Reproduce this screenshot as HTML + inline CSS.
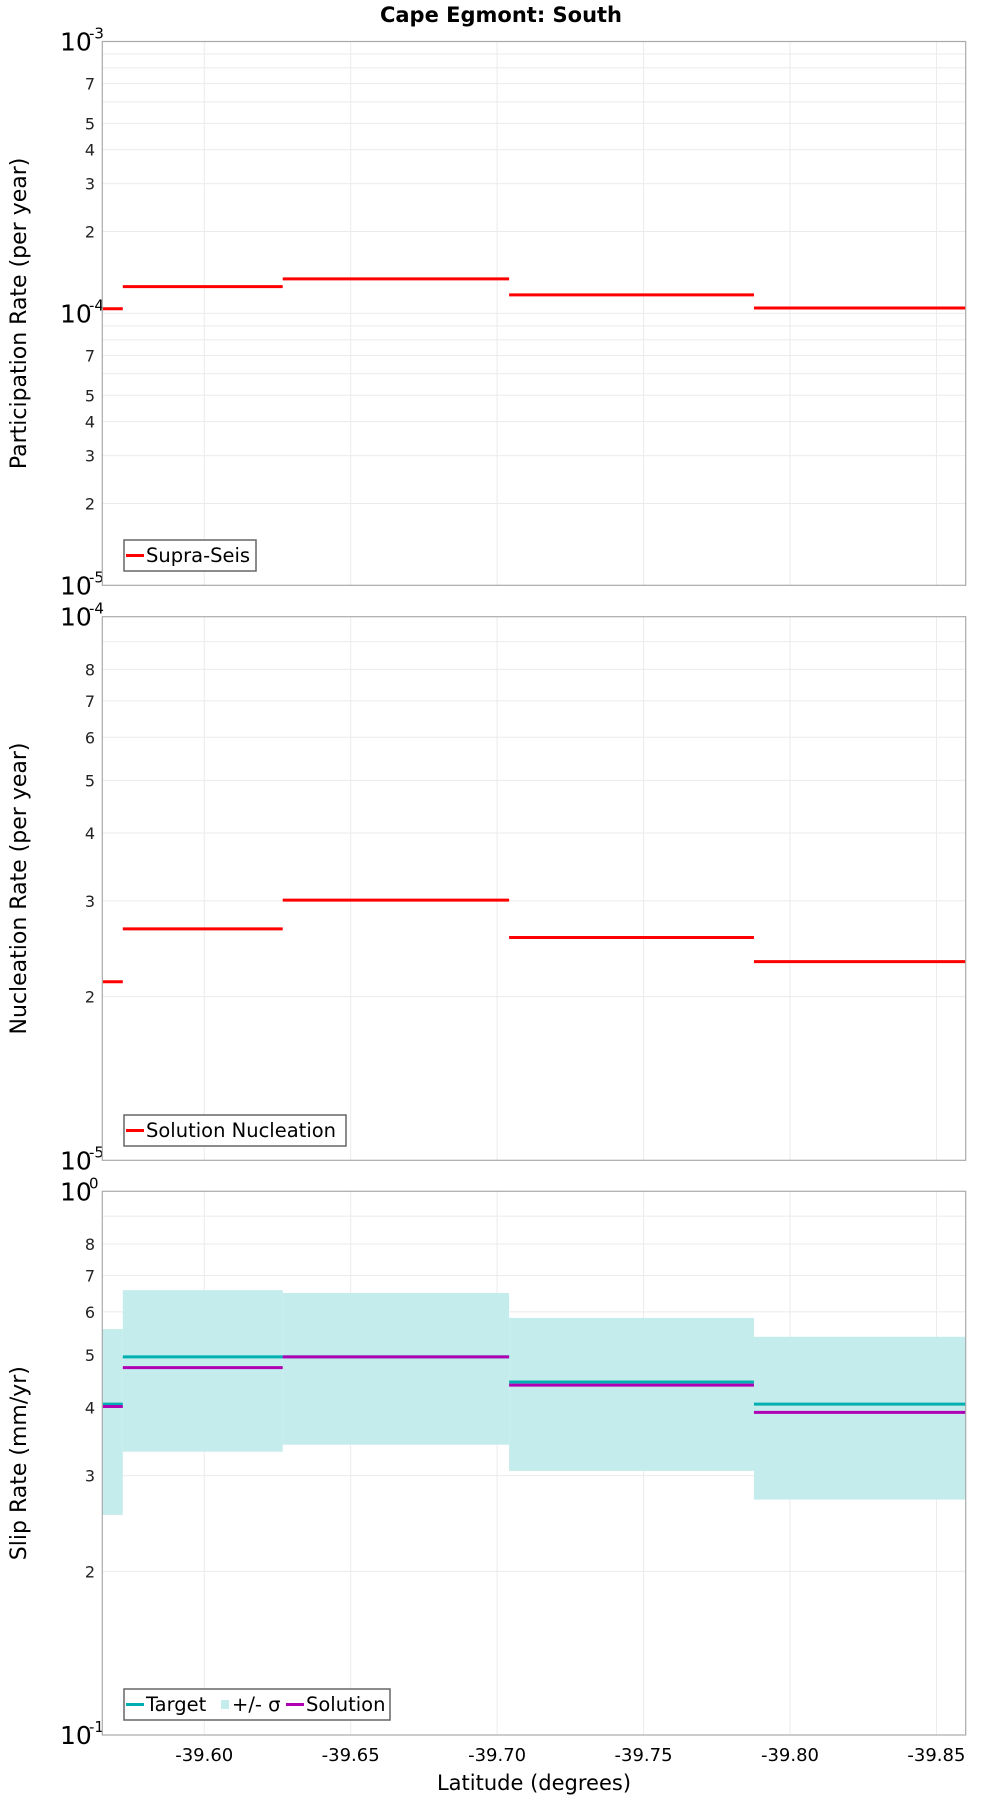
<!DOCTYPE html>
<html><head><meta charset="utf-8"><style>
html,body{margin:0;padding:0;background:#fff;}
svg{display:block;font-family:"DejaVu Sans","Liberation Sans",sans-serif;}
</style></head><body>
<svg id="chart" width="1000" height="1800" viewBox="0 0 1000 1800" xmlns="http://www.w3.org/2000/svg">
<text x="501" y="22" text-anchor="middle" font-size="21" font-weight="bold">Cape Egmont: South</text>
<text x="534" y="1790" text-anchor="middle" font-size="21">Latitude (degrees)</text>
</svg>
<script>
// Data
const bounds = [-39.5652, -39.5722, -39.6268, -39.7041, -39.7877, -39.8600];
const supraSeis = [1.04e-4, 1.254e-4, 1.34e-4, 1.17e-4, 1.047e-4];
const nucleation = [2.13e-5, 2.665e-5, 3.01e-5, 2.57e-5, 2.32e-5];
const slipTarget = [0.406, 0.496, 0.496, 0.446, 0.406];
const slipSolution = [0.402, 0.474, 0.496, 0.440, 0.392];
const slipUpper = [0.558, 0.658, 0.650, 0.585, 0.540];
const slipLower = [0.254, 0.332, 0.342, 0.306, 0.271];
const xTicks = [-39.60, -39.65, -39.70, -39.75, -39.80, -39.85];
const xTickLabels = ["-39.60", "-39.65", "-39.70", "-39.75", "-39.80", "-39.85"];

const NS = "http://www.w3.org/2000/svg";
const svg = document.getElementById('chart');
const L = 102.3, R = 965.7, X0 = -39.5652, X1 = -39.8600;
function xs(v){ return L + (v - X0) / (X1 - X0) * (R - L); }
function mk(tag, attrs, parent){
  const e = document.createElementNS(NS, tag);
  for (const k in attrs) e.setAttribute(k, attrs[k]);
  (parent || svg).appendChild(e);
  return e;
}
const panels = [
  {top: 41.5, bottom: 585.3, lo: -5, hi: -3, labels: [2,3,4,5,7], title: "Participation Rate (per year)", name: "participation"},
  {top: 616.7, bottom: 1160.3, lo: -5, hi: -4, labels: [2,3,4,5,6,7,8], title: "Nucleation Rate (per year)", name: "nucleation"},
  {top: 1191.3, bottom: 1735, lo: -1, hi: 0, labels: [2,3,4,5,6,7,8], title: "Slip Rate (mm/yr)", name: "slip"}
];
panels.forEach(p => {
  p.ys = v => p.bottom - (Math.log10(v) - p.lo) / (p.hi - p.lo) * (p.bottom - p.top);
  const g = mk('g', {});
  
  
  p.g = g;
  for (let d = p.lo; d < p.hi; d++) {
    for (let m = 1; m <= 9; m++) {
      const v = m * Math.pow(10, d);
      const y = p.ys(v);
      if (m > 1 || d > p.lo) {
        const gl = mk('line', {x1: L, x2: R, y1: y, y2: y, stroke: '#ebebeb', 'stroke-width': 1}, g);
        
        
      }
      if (m > 1 && p.labels.indexOf(m) >= 0) {
        const t = mk('text', {x: 95, y: y + 6, 'text-anchor': 'end', 'font-size': 16, fill: '#222'}, g);
        
        
        t.textContent = m;
      }
    }
  }
  xTicks.forEach(v => {
    const gl = mk('line', {x1: xs(v), x2: xs(v), y1: p.top, y2: p.bottom, stroke: '#ebebeb', 'stroke-width': 1}, g);
    
    
  });
  for (let d = p.lo; d <= p.hi; d++) {
    const y = p.ys(Math.pow(10, d));
    const t = mk('text', {x: 60, y: y + 9, 'font-size': 25}, g);
    
    
    t.textContent = '10';
    const s = mk('text', {x: 89, y: y - 3, 'font-size': 15}, g);
    
    
    s.textContent = String(d);
  }
  const at = mk('text', {x: 0, y: 0, 'font-size': 22, 'text-anchor': 'middle', transform: 'translate(26,' + ((p.top + p.bottom) / 2) + ') rotate(-90)'}, g);
  
  
  at.textContent = p.title;
});
function steps(p, vals, color, w, name){
  vals.forEach((v, i) => {
    const ln = mk('line', {x1: xs(bounds[i]), x2: xs(bounds[i+1]), y1: p.ys(v), y2: p.ys(v), stroke: color, 'stroke-width': w}, p.g);
    
    
  });
}
slipUpper.forEach((u, i) => {
  const p = panels[2];
  const r = mk('rect', {x: xs(bounds[i]), y: p.ys(u), width: xs(bounds[i+1]) - xs(bounds[i]), height: p.ys(slipLower[i]) - p.ys(u), fill: '#c4ecec'}, p.g);
  
  
});
steps(panels[0], supraSeis, '#ff0000', 3, 'supra-seis-step');
steps(panels[1], nucleation, '#ff0000', 3, 'nucleation-step');
steps(panels[2], slipTarget, '#00b0b0', 3, 'target-step');
steps(panels[2], slipSolution, '#b000b4', 3, 'solution-step');
panels.forEach(p => {
  const b = mk('rect', {x: L, y: p.top, width: R - L, height: p.bottom - p.top, fill: 'none', stroke: '#aaaaaa', 'stroke-width': 1.2});
  
  
});
xTicks.forEach((v, i) => {
  const t = mk('text', {x: xs(v), y: 1761, 'text-anchor': 'middle', 'font-size': 18});
  
  
  t.textContent = xTickLabels[i];
});
function legend(x, y, w, items, name){
  const g = mk('g', {});
  
  
  const bx = mk('rect', {x: x, y: y, width: w, height: 31, fill: '#fff', stroke: '#666', 'stroke-width': 1.5}, g);
  
  
  let cx = x + 2;
  items.forEach(it => {
    if (it.patch) {
      const r = mk('rect', {x: cx + 3, y: y + 11, width: 8, height: 9, fill: it.color}, g);
      
      
      cx += 14;
    } else {
      const l = mk('line', {x1: cx, x2: cx + 18, y1: y + 15.5, y2: y + 15.5, stroke: it.color, 'stroke-width': 3}, g);
      
      
      cx += 20;
    }
    const t = mk('text', {x: cx, y: y + 22, 'font-size': 19.5}, g);
    
    
    t.textContent = it.label;
    cx += it.w;
  });
}
legend(124, 540, 132, [{color: '#ff0000', label: 'Supra-Seis', w: 100}], 'legend-participation');
legend(124, 1115, 222, [{color: '#ff0000', label: 'Solution Nucleation', w: 190}], 'legend-nucleation');
legend(124, 1689, 266, [{color: '#00b0b0', label: 'Target', w: 72}, {color: '#c4ecec', label: '+/- σ', patch: true, w: 54}, {color: '#b000b4', label: 'Solution', w: 90}], 'legend-slip');
</script>
</body></html>
